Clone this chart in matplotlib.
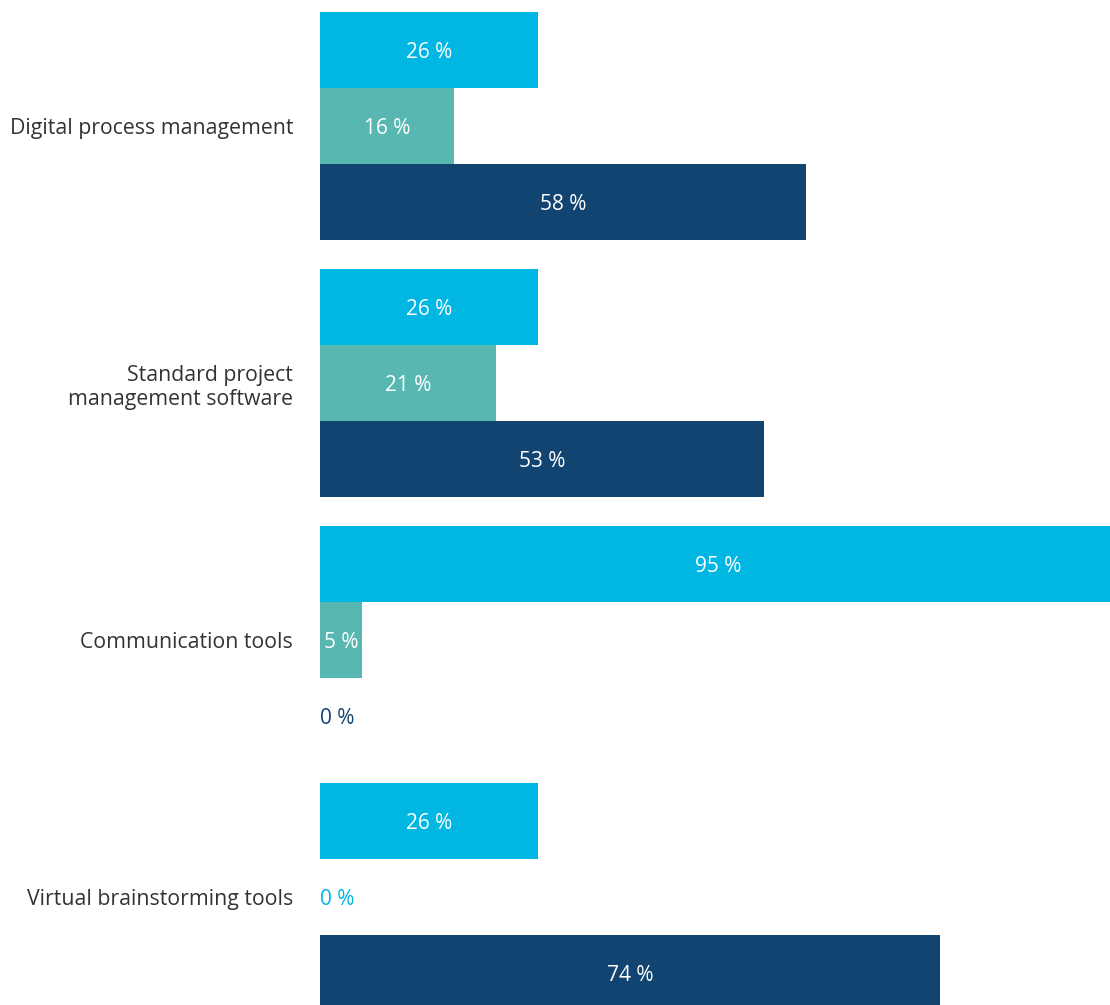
import numpy as np
import matplotlib.pyplot as plt

categories = ["Digital process management", "Standard project\nmanagement software",
              "Communication tools", "Virtual brainstorming tools"]
series_a = [26, 26, 95, 26]
series_b = [16, 21, 5, 0]
series_c = [58, 53, 0, 74]

colors = ["#00b7e3", "#58b8b1", "#124471"]
# colour used when a value is zero and printed beside the axis
zero_colors = ["#00b7e3", "#00b7e3", "#124471"]

plt.rcParams['font.family'] = ['Open Sans', 'DejaVu Sans']

fig = plt.figure(figsize=(11.1, 10.05), dpi=100)
ax = fig.add_axes([320 / 1110, 0, 1 - 320 / 1110, 1])

h = 76 / 257
y = np.arange(len(categories))
for k, vals in enumerate([series_a, series_b, series_c]):
    pos = y + (k - 1) * h
    ax.barh(pos, vals, height=h, color=colors[k])
    for p, v in zip(pos, vals):
        if v == 0:
            ax.text(0, p, f"{v} %", color=zero_colors[k], fontsize=15,
                    ha="left", va="center_baseline")
        else:
            ax.text(v / 2, p, f"{v} %", color="white", fontsize=15,
                    ha="center", va="center_baseline")

for p, c in zip(y, categories):
    ax.text(-27 / 790 * 94.3, p, c, color="#333333", fontsize=15.3, ha="right",
            va="center_baseline", multialignment="right", clip_on=False)

ax.set_xlim(0, 94.3)
ax.set_ylim(1005 / 257 - 126 / 257, -126 / 257)
ax.axis("off")

fig.savefig("out.png", dpi=100)
